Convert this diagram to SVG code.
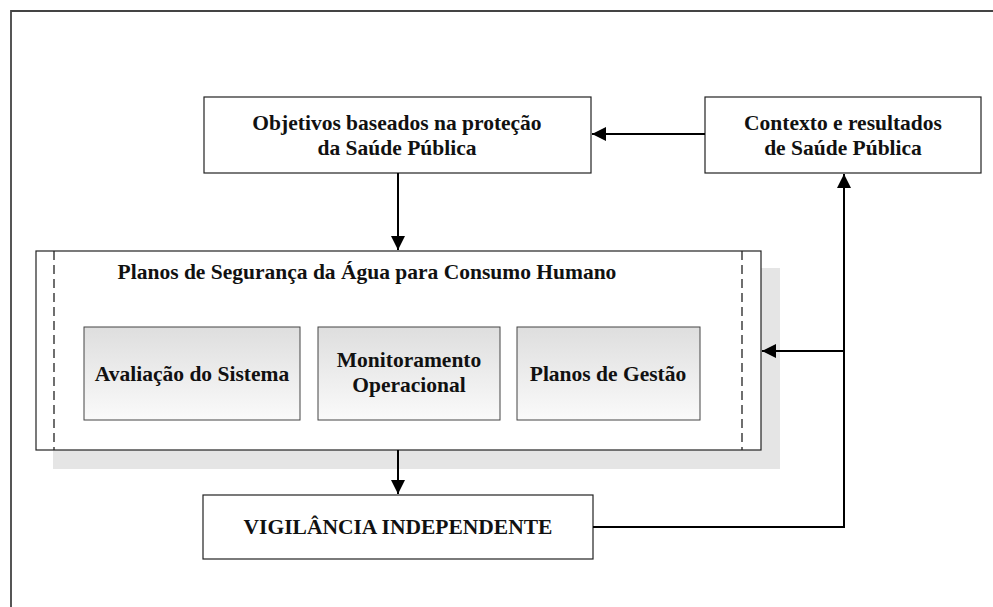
<svg xmlns="http://www.w3.org/2000/svg" width="993" height="607" viewBox="0 0 993 607">
<style>
.box{fill:#fff;stroke:#222;stroke-width:1.2}
.t{font-family:"Liberation Serif","Times New Roman",serif;font-weight:bold;font-size:21.5px;fill:#111;text-anchor:middle}
.c{fill:none;stroke:#000;stroke-width:2}
.inner{fill:url(#g);stroke:#444;stroke-width:1}
.dash{stroke:#222;stroke-width:1.3;stroke-dasharray:9,5}
</style>
<defs>
<linearGradient id="g" x1="0" y1="0" x2="0" y2="1">
<stop offset="0" stop-color="#dedede"/>
<stop offset="1" stop-color="#fafafa"/>
</linearGradient>
<marker id="b" viewBox="0 0 14 14" refX="14" refY="7" markerWidth="14" markerHeight="14" markerUnits="userSpaceOnUse" orient="auto">
<path d="M0,0 L14,7 L0,14 z" fill="#000"/>
</marker>
</defs>
<path d="M11,607 L11,11 L993,11" fill="none" stroke="#444" stroke-width="1.8"/>
<g id="objetivos">
<rect class="box" x="204" y="97" width="387" height="76"/>
<text class="t" x="397" y="130">Objetivos baseados na proteção</text>
<text class="t" x="397" y="155">da Saúde Pública</text>
</g>
<g id="contexto">
<rect class="box" x="705" y="97" width="276" height="76"/>
<text class="t" x="843" y="130">Contexto e resultados</text>
<text class="t" x="843" y="155">de Saúde Pública</text>
</g>
<g id="planos">
<rect x="53" y="268" width="727" height="201" fill="#e5e5e5"/>
<rect class="box" x="36" y="251" width="725" height="199"/>
<line class="dash" x1="54" y1="251" x2="54" y2="450"/>
<line class="dash" x1="742" y1="251" x2="742" y2="450"/>
<text class="t" x="367" y="279">Planos de Segurança da Água para Consumo Humano</text>
</g>
<g id="avaliacao">
<rect class="inner" x="84" y="327" width="216" height="93"/>
<text class="t" x="192" y="381">Avaliação do Sistema</text>
</g>
<g id="monitoramento">
<rect class="inner" x="318" y="327" width="182" height="93"/>
<text class="t" x="409" y="367">Monitoramento</text>
<text class="t" x="409" y="392">Operacional</text>
</g>
<g id="gestao">
<rect class="inner" x="517" y="327" width="183" height="93"/>
<text class="t" x="608" y="381">Planos de Gestão</text>
</g>
<g id="vigilancia">
<rect class="box" x="203" y="495" width="390" height="64"/>
<text class="t" x="398" y="534">VIGILÂNCIA INDEPENDENTE</text>
</g>
<g id="connectors">
<line class="c" x1="705" y1="134" x2="592" y2="134" marker-end="url(#b)"/>
<line class="c" x1="398" y1="173" x2="398" y2="250" marker-end="url(#b)"/>
<line class="c" x1="398" y1="450" x2="398" y2="494" marker-end="url(#b)"/>
<polyline class="c" points="593,527 844,527 844,174" marker-end="url(#b)"/>
<line class="c" x1="844" y1="351" x2="762" y2="351" marker-end="url(#b)"/>
</g>
</svg>
